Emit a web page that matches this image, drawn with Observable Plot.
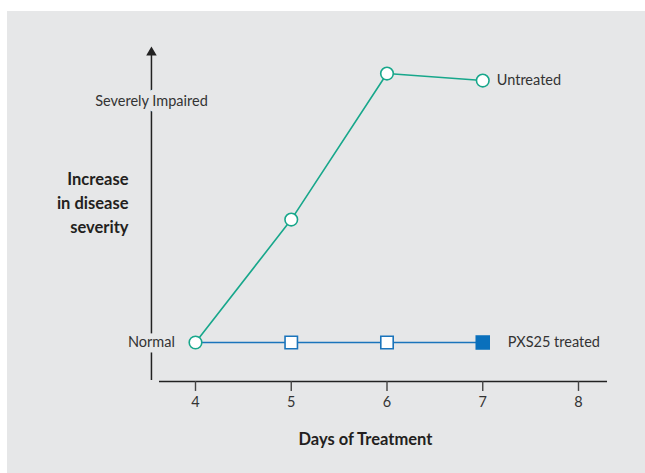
<!DOCTYPE html>
<html>
<head>
<meta charset="utf-8">
<script src="https://cdn.jsdelivr.net/npm/d3@7"></script>
<script src="https://cdn.jsdelivr.net/npm/@observablehq/plot@0.6"></script>
<style>
  html, body { margin: 0; padding: 0; background: #ffffff; }
  #wrap { position: relative; width: 645px; height: 473px; overflow: hidden; }
  #panel { position: absolute; left: 7px; top: 11px; width: 638px; height: 462px; background: #e6e7e8; }
  #chart { position: absolute; left: 0; top: 0; }
</style>
</head>
<body>
<div id="wrap"><div id="panel"></div><div id="chart"></div></div>
<script>
// ---- data ----
const days = [4, 5, 6, 7];
const untreated = [0, 0.51, 1.116, 1.087];          // 0 = Normal, 1 = Severely Impaired
const treated = [0, 0, 0, 0];
const treatedMarker = ["none", "open", "open", "filled"];
const xTicks = [4, 5, 6, 7, 8];
const yLevels = [0, 1];
const yLevelLabels = ["Normal", "Severely Impaired"];
const seriesNames = ["Untreated", "PXS25 treated"];
const xTitle = "Days of Treatment";
const yTitle = "Increase\nin disease\nseverity";

const green = "#17a78b";
const blue = "#1a74bb";
const bg = "#e6e7e8";
const font = "Lato, 'Noto Sans', sans-serif";

const untreatedData = days.map((d, i) => ({day: d, v: untreated[i]}));
const treatedData = days.map((d, i) => ({day: d, v: treated[i], m: treatedMarker[i]}));

// axis decoration extents (data units)
const yAxisX = 3.54, xAxisY = -0.162, yAxisBottom = -0.158, yAxisTop = 1.203;
const xAxisStart = 3.624, xAxisEnd = 8.303, tickBottom = -0.203, tickLabelY = -0.25;

const chart = Plot.plot({
  width: 645,
  height: 473,
  marginTop: 0, marginRight: 0, marginLeft: 0, marginBottom: 92,
  style: {fontFamily: font, fontSize: "14px", color: "#333", background: "transparent", overflow: "visible"},
  x: {domain: [4, 8], range: [195, 578], axis: null, label: null},
  y: {domain: [0, 1], range: [342, 101], axis: null, label: null},
  marks: [
    // x axis
    Plot.ruleY([xAxisY], {x1: xAxisStart, x2: xAxisEnd, stroke: "#222", strokeWidth: 1.5}),
    Plot.ruleX(xTicks, {x: d => d, y1: xAxisY, y2: tickBottom, stroke: "#444", strokeWidth: 1.4}),
    Plot.text(xTicks, {x: d => d, y: () => tickLabelY, text: d => String(d), fontSize: 14.5, fill: "#333"}),
    // y axis with arrow
    Plot.ruleX([yAxisX], {y1: yAxisBottom, y2: yAxisTop, stroke: "#222", strokeWidth: 1.5}),
    Plot.dot([yAxisTop], {x: () => yAxisX, y: d => d, symbol: "triangle", r: 3.9, fill: "#222", stroke: null}),
    // y level labels (with halo covering the axis line)
    Plot.text(yLevels, {x: () => yAxisX, y: d => d, text: (d, i) => yLevelLabels[i], textAnchor: "middle",
      fill: "#333", stroke: bg, strokeWidth: 11, fontSize: 14.5}),
    // series lines
    Plot.line(treatedData, {x: "day", y: "v", stroke: blue, strokeWidth: 1.5}),
    Plot.line(untreatedData, {x: "day", y: "v", stroke: green, strokeWidth: 1.6}),
    // markers
    Plot.dot(treatedData.filter(d => d.m === "open"), {x: "day", y: "v", symbol: "square", r: 7, fill: "white", stroke: blue, strokeWidth: 1.6}),
    Plot.dot(treatedData.filter(d => d.m === "filled"), {x: "day", y: "v", symbol: "square", r: 8.2, fill: "#0a70bc", stroke: null}),
    Plot.dot(untreatedData, {x: "day", y: "v", r: 6.3, fill: "white", stroke: green, strokeWidth: 1.6}),
    // series labels
    Plot.text([untreatedData[untreatedData.length - 1]], {x: "day", y: "v", text: () => seriesNames[0], textAnchor: "start", dx: 14, fill: "#333", fontSize: 14.5}),
    Plot.text([treatedData[treatedData.length - 1]], {x: "day", y: "v", text: () => seriesNames[1], textAnchor: "start", dx: 25, fill: "#333", fontSize: 14.5}),
    // titles
    Plot.text([yTitle], {x: () => 3.30, y: () => 0.585, text: d => d, textAnchor: "end", lineHeight: 1.45, fontSize: 16.5, fontWeight: "bold", fill: "#231f20"}),
    Plot.text([xTitle], {x: () => 5.775, y: () => -0.4025, text: d => d, textAnchor: "middle", fontSize: 16.5, fontWeight: "bold", fill: "#231f20"})
  ]
});
document.getElementById("chart").appendChild(chart);
</script>
</body>
</html>
